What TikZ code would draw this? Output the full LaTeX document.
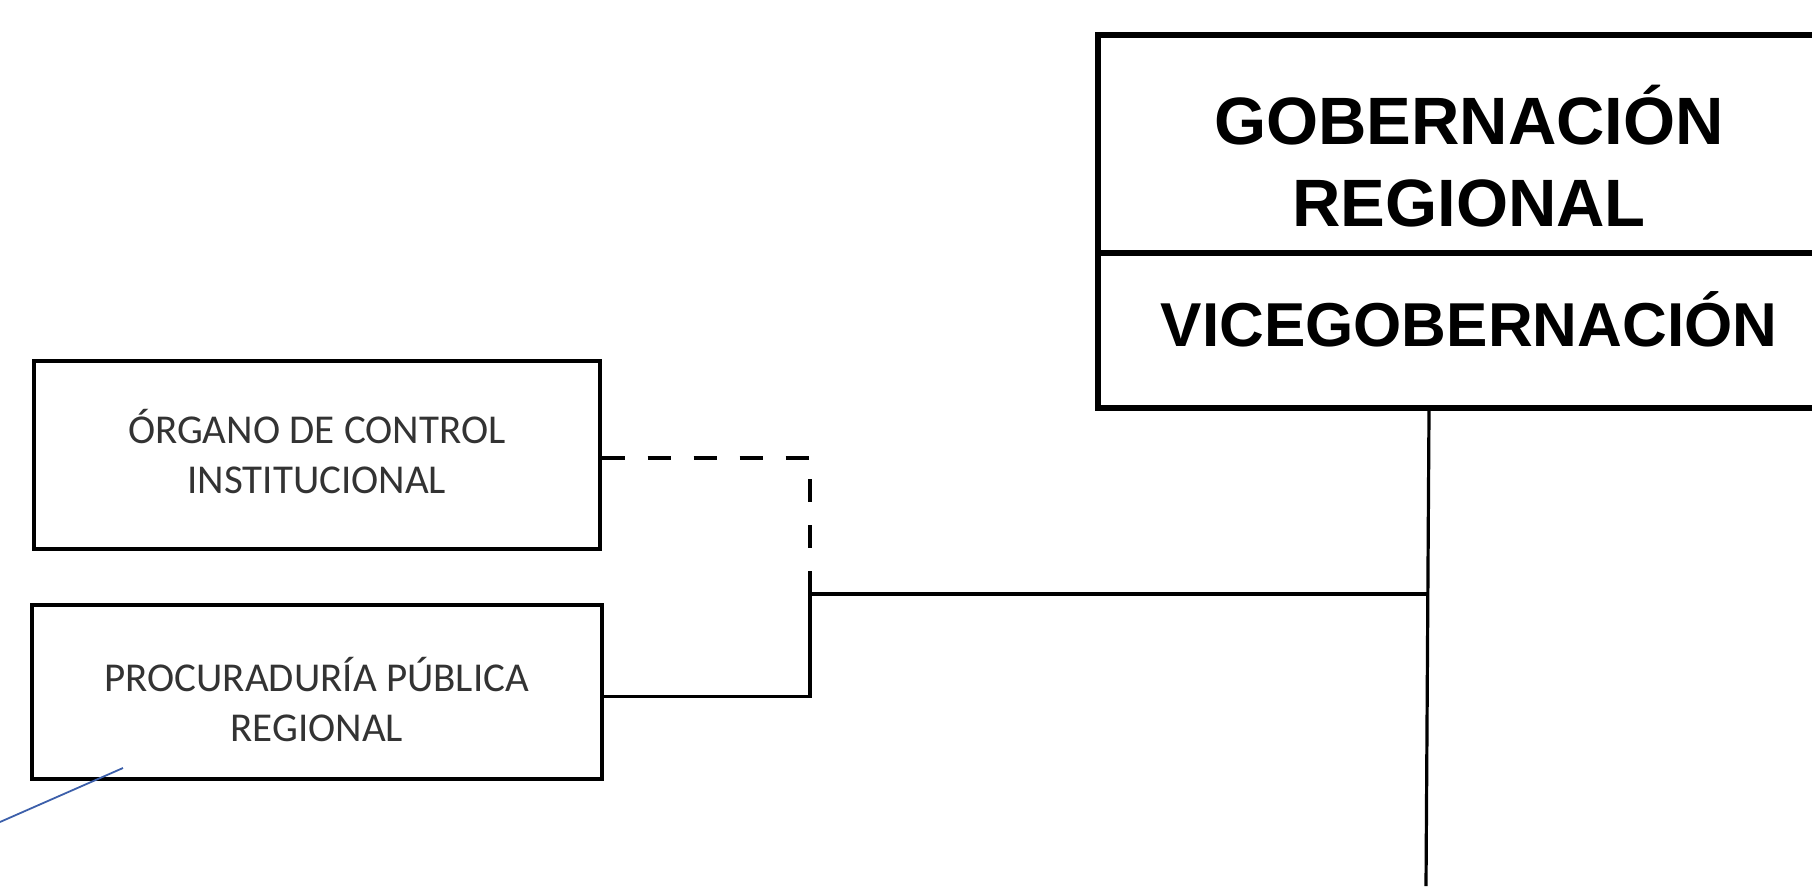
\documentclass[tikz,border=0pt]{standalone}
\usepackage{fontspec}
\setmainfont{Liberation Sans}
\newfontfamily\calibri{Carlito}
\usetikzlibrary{positioning}
\definecolor{strayblue}{RGB}{60,95,170}
\begin{document}
\begin{tikzpicture}[x=1pt, y=-1pt,
    unitbox/.style={draw, line width=3.5pt, text=black!80, font=\calibri\fontsize{41}{50}\selectfont,
        align=center, inner sep=0pt, anchor=north west, text depth=0pt},
    govbox/.style={draw, line width=6pt, align=center, inner sep=0pt, anchor=north west,
        minimum width=742pt, text depth=0pt},
    link/.style={line width=3.2pt}]
    \useasboundingbox (0,0) rectangle (1812,886);

    % Regional government
    \node[govbox, minimum height=218pt, font=\bfseries\fontsize{67}{82}\selectfont,
        text height=165pt] (gob) at (1095,32) {GOBERNACIÓN\\REGIONAL};
    \node[govbox, minimum height=155pt, font=\bfseries\fontsize{62}{74}\selectfont,
        text height=31pt] (vice) at (1095,250) {VICEGOBERNACIÓN};

    % Advisory units
    \node[unitbox, minimum width=566pt, minimum height=188pt, text height=78pt] (oci) at (32,359)
        {ÓRGANO DE CONTROL\\INSTITUCIONAL};
    \node[unitbox, minimum width=570pt, minimum height=174pt, text height=100pt] (ppr) at (30,603)
        {PROCURADURÍA PÚBLICA\\REGIONAL};

    % Links
    \coordinate (trunk) at ([xshift=-40pt]vice.south);
    \coordinate (trunk end) at (1426,886);
    \coordinate (join) at (810,594);
    \draw[link] (trunk) -- (trunk end);
    \draw[link] ([yshift=-5pt]ppr.east) -| (join) -- (join -| trunk);
    \draw[line width=3.8pt, dash pattern=on 23pt off 23pt] ([yshift=-3pt]oci.east) -| (join);

    % Stray stroke
    \coordinate (stray a) at (0,822);
    \coordinate (stray b) at (123,768);
    \draw[line width=1.8pt, strayblue] (stray a) -- (stray b);
\end{tikzpicture}
\end{document}
